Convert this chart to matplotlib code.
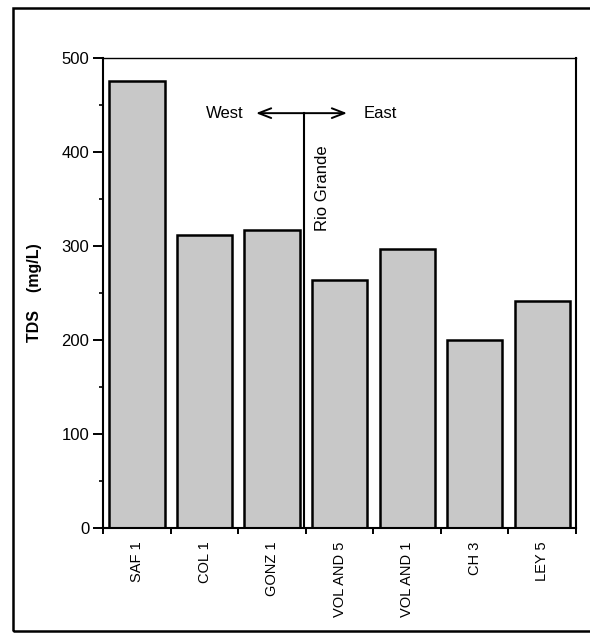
import matplotlib
matplotlib.use('Agg')
import matplotlib.pyplot as plt
from matplotlib import font_manager
from matplotlib.patches import Rectangle

plt.rcParams['font.family'] = ['Liberation Sans', 'DejaVu Sans']

# sampling sites, west to east of the Rio Grande
sites = ['SAF 1', 'COL 1', 'GONZ 1', 'VOL AND 5', 'VOL AND 1', 'CH 3', 'LEY 5']
tds = [475, 311, 317, 263, 296, 200, 241]

# river divide and its label
river_x = 2.47
river_top = 441

# narrow face for the site names if we have it
installed = {f.name for f in font_manager.fontManager.ttflist}
if 'Liberation Sans Narrow' in installed:
    site_font, site_size = 'Liberation Sans Narrow', 12
else:
    site_font, site_size = 'Liberation Sans', 10.5

fig = plt.figure(figsize=(5.9, 6.34), dpi=100, facecolor='white')

# outer frame round the whole figure
fig.patches.append(Rectangle((0.0215, 0.004), 1.1, 0.983, transform=fig.transFigure,
                             fill=False, edgecolor='black', linewidth=1.8))

ax = fig.add_axes([0.1751, 0.1677, 0.8012, 0.7413])

x = list(range(len(sites)))
ax.bar(x, tds, width=0.82, color='#c8c8c8', edgecolor='black', linewidth=1.8, zorder=2)

ax.set_xlim(-0.5, len(sites) - 0.5)
ax.set_ylim(0, 500)

ax.set_yticks([0, 100, 200, 300, 400, 500])
ax.set_yticks([50, 150, 250, 350, 450], minor=True)
ax.tick_params(axis='y', which='major', direction='out', length=7, width=1.4, labelsize=12, pad=3)
ax.tick_params(axis='y', which='minor', direction='out', length=3, width=1.2)

# ticks between categories, labels at bar centres
ax.set_xticks([i + 0.5 for i in range(-1, len(sites))])
ax.set_xticklabels([])
ax.set_xticks(x, minor=True)
ax.set_xticklabels(sites, minor=True, rotation=90, fontsize=site_size, family=site_font)
ax.tick_params(axis='x', which='major', direction='out', length=4, width=1.4)
ax.tick_params(axis='x', which='minor', length=0, pad=10)

for s in ax.spines.values():
    s.set_linewidth(1.5)
ax.spines['top'].set_linewidth(1.0)

ax.set_ylabel('TDS    (mg/L)', fontweight='bold', fontsize=11.5, labelpad=14)

# Rio Grande divide with west/east arrow
ax.plot([river_x, river_x], [0, river_top], color='black', linewidth=1.5, zorder=3)
ax.annotate('', xy=(1.72, river_top), xytext=(3.15, river_top),
            arrowprops=dict(arrowstyle='<->, head_length=0.9, head_width=0.35',
                            color='black', linewidth=1.4))
ax.text(1.57, river_top, 'West', ha='right', va='center', fontsize=12)
ax.text(3.35, river_top, 'East', ha='left', va='center', fontsize=12)
ax.text(2.75, 361, 'Rio Grande', rotation=90, ha='center', va='center', fontsize=12)

fig.savefig('out.png', dpi=100, facecolor='white')
